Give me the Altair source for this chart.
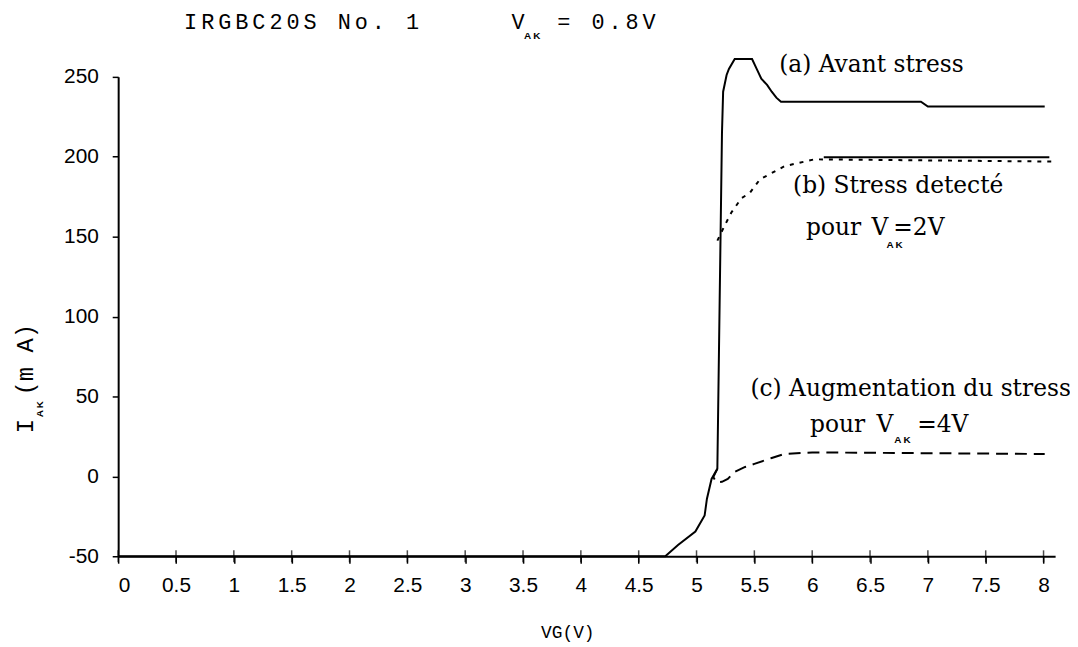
import altair as alt
import pandas as pd

# ---- data ----
x_ticks = [0, 0.5, 1, 1.5, 2, 2.5, 3, 3.5, 4, 4.5, 5, 5.5, 6, 6.5, 7, 7.5, 8]
y_ticks = [-50, 0, 50, 100, 150, 200, 250]

# (a) Avant stress (solid)
a_vg = [0, 4.73, 4.84, 4.99, 5.07, 5.09, 5.13, 5.18, 5.20, 5.22, 5.23, 5.26, 5.28, 5.33,
        5.48, 5.52, 5.56, 5.61, 5.65, 5.69, 5.73, 6.94, 7.00, 8.01]
a_iak = [-50, -50, -43, -34.5, -24.5, -14, -1.6, 4.7, 110, 215, 240.7, 251.2, 255, 261.2,
         261.2, 255, 248.8, 245, 240.7, 237, 234.5, 234.5, 231.4, 231.4]

# (b) Stress detecte (dotted) + flat solid trace
b_vg = [5.18, 5.23, 5.30, 5.39, 5.46, 5.55, 5.65, 5.76, 6.02, 8.08]
b_iak = [147.5, 155, 165, 174.2, 177.3, 186, 189.8, 194.1, 198.4, 197]
b2_vg = [6.10, 8.05]
b2_iak = [199.7, 199.7]

# (c) Augmentation du stress (dashed)
c_vg = [5.18, 5.145, 5.17, 5.22, 5.27, 5.33, 5.42, 5.50, 5.65, 5.76, 6.0, 8.01]
c_iak = [4.7, -0.4, -3.6, -3.4, -1.6, 2.8, 5.9, 7.8, 11.5, 14, 15, 14]

title_main = "IRGBC20S No. 1"
title_rest = "= 0.8V"
label_a = "(a) Avant stress"
label_b = "(b) Stress detecté"
label_c = "(c) Augmentation du stress"

# ---- layout ----
X0, Y0 = 119, 75          # page position of plot origin
W, H = 944, 483


def frame(vg, iak):
    return pd.DataFrame({"v": vg, "i": iak, "o": list(range(len(vg)))})


X = alt.X("v:Q", scale=alt.Scale(domain=[0, 8.1], nice=False, zero=False),
          axis=alt.Axis(values=x_ticks, title=None, labelExpr="'' + datum.value",
                        tickSize=7, labelPadding=12))
Y = alt.Y("i:Q", scale=alt.Scale(domain=[-50, 250], nice=False, zero=False),
          axis=alt.Axis(values=y_ticks, title=None, labelExpr="'' + datum.value",
                        tickSize=6, labelPadding=14))
O = alt.Order("o:Q")

line_a = alt.Chart(frame(a_vg, a_iak)).mark_line(color="black", strokeWidth=2, clip=False).encode(x=X, y=Y, order=O)
line_b = alt.Chart(frame(b_vg, b_iak)).mark_line(color="black", strokeWidth=2, strokeDash=[4, 6], clip=False).encode(x=X, y=Y, order=O)
line_b2 = alt.Chart(frame(b2_vg, b2_iak)).mark_line(color="black", strokeWidth=1.8, clip=False).encode(x=X, y=Y, order=O)
line_c = alt.Chart(frame(c_vg, c_iak)).mark_line(color="black", strokeWidth=2, strokeDash=[12, 7], clip=False).encode(x=X, y=Y, order=O)

ticks = alt.Chart(pd.DataFrame({"v": x_ticks})).mark_tick(
    orient="vertical", size=12, thickness=1.5, color="black").encode(x=X, y=alt.datum(-50))


def txt(s, px, py, size, font, align="left", angle=0, weight="normal"):
    return alt.Chart(alt.Data(values=[{"t": s}])).mark_text(
        align=align, baseline="alphabetic", font=font, fontSize=size, angle=angle,
        fontWeight=weight, color="black").encode(
        text="t:N", x=alt.value(px - X0), y=alt.value(py - Y0))


MONO = "Liberation Mono"
SERIF = "DejaVu Serif"
SANS = "Liberation Sans"
SUB = "A\u2009K"

texts = []
# chart title, letter-spaced monospace
adv = 17.2
for k, ch in enumerate(title_main):
    if ch != " ":
        texts.append(txt(ch, 192 + k * adv, 27, 22, MONO, align="center"))
texts.append(txt("V", 522, 27, 22, MONO, align="center"))
texts.append(txt(SUB, 528, 37, 10, SANS, weight="bold"))
for k, ch in enumerate(title_rest):
    if ch != " ":
        texts.append(txt(ch, 568 + k * adv, 27, 22, MONO, align="center"))

# y-axis title (rotated)
texts.append(txt("I", 33, 434, 24, MONO, angle=270))
texts.append(txt(SUB, 43, 418, 10, SANS, angle=270, weight="bold"))
texts.append(txt("(m A)", 33, 396, 24, MONO, angle=270))
# x-axis title
texts.append(txt("VG(V)", 572, 640, 18, MONO, align="center"))

# curve annotations
FS = 23.5
texts.append(txt(label_a, 785, 70, FS, SERIF))
texts.append(txt(label_b, 799, 192, FS, SERIF))
texts.append(txt("pour", 812, 234, FS, SERIF))
texts.append(txt("V", 878, 234, FS, SERIF))
texts.append(txt(SUB, 893, 247, 10, SANS, weight="bold"))
texts.append(txt("=2V", 900, 234, FS, SERIF))
texts.append(txt(label_c, 756, 397, FS, SERIF))
texts.append(txt("pour", 816, 433, FS, SERIF))
texts.append(txt("V", 883, 433, FS, SERIF))
texts.append(txt(SUB, 901, 444, 10, SANS, weight="bold"))
texts.append(txt("=4V", 924, 433, FS, SERIF))

chart = alt.layer(line_a, line_b, line_b2, line_c, ticks, *texts).properties(
    width=W, height=H,
    padding={"left": X0 - 8, "top": Y0 - 8, "right": 15, "bottom": 85},
    autosize=alt.AutoSizeParams(type="none"),
    background="white",
).configure_view(stroke=None).configure_axis(
    grid=False, domainColor="black", domainWidth=2, tickColor="black", tickWidth=1.5,
    labelFont=SANS, labelFontSize=21, labelColor="black",
)

chart.save("out.html", embed_options={"renderer": "svg", "actions": False})
